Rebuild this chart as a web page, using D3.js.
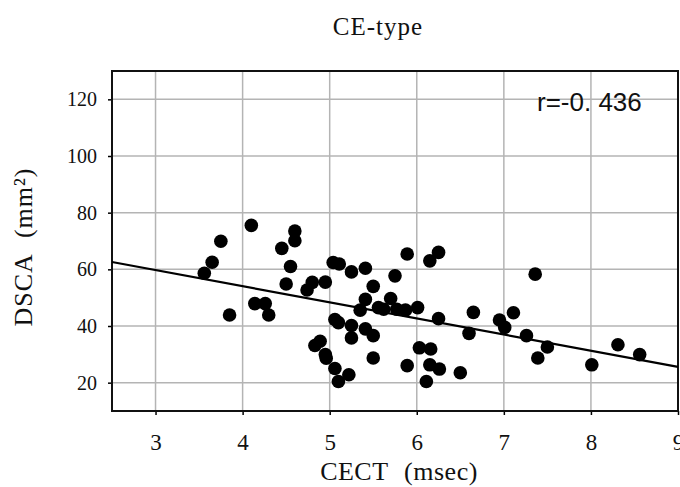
<!DOCTYPE html>
<html>
<head>
<meta charset="utf-8">
<script src="https://cdn.jsdelivr.net/npm/d3@7"></script>
<style>
  body { margin: 0; background: #fff; }
</style>
</head>
<body>
<div id="chart"></div>
<script>
// CECT (msec) values
var cect = [3.56, 3.65, 3.75, 3.85, 4.10, 4.14, 4.26, 4.30, 4.45, 4.50,
  4.55, 4.60, 4.60, 4.74, 4.80, 4.83, 4.89, 4.95, 4.95, 4.96,
  5.04, 5.11, 5.06, 5.10, 5.06, 5.10, 5.22, 5.25, 5.25, 5.25,
  5.35, 5.41, 5.41, 5.41, 5.50, 5.50, 5.50, 5.56, 5.62, 5.70,
  5.75, 5.77, 5.87, 5.89, 5.89, 6.01, 6.03, 6.11, 6.15, 6.16,
  6.15, 6.25, 6.25, 6.26, 6.50, 6.60, 6.65, 6.95, 7.01, 7.11,
  7.26, 7.36, 7.39, 7.50, 8.01, 8.31, 8.56];
// DSCA (mm2) values, same order
var dsca = [58.6, 62.5, 69.9, 43.9, 75.5, 47.9, 47.9, 43.9, 67.4, 54.8,
  61.0, 73.5, 70.1, 52.7, 55.4, 33.1, 34.6, 55.5, 29.9, 28.6,
  62.4, 61.9, 42.3, 41.2, 25.0, 20.4, 22.8, 59.1, 40.2, 35.8,
  45.6, 60.4, 49.4, 39.0, 54.0, 36.6, 28.7, 46.5, 45.9, 49.7,
  57.7, 45.9, 45.6, 65.4, 26.0, 46.5, 32.3, 20.4, 63.0, 31.9,
  26.3, 66.0, 42.6, 24.8, 23.5, 37.4, 44.8, 42.1, 39.5, 44.7,
  36.6, 58.3, 28.7, 32.6, 26.3, 33.4, 29.9];

// regression line end points
var fitX = [2.5, 9];
var fitY = [62.6, 25.6];

var xTicks = [3, 4, 5, 6, 7, 8, 9];
var yTicks = [20, 40, 60, 80, 100, 120];

var W = 680, H = 487;
var margin = { top: 71, right: 2, bottom: 76, left: 112 };
var width = W - margin.left - margin.right;
var height = H - margin.top - margin.bottom;

var serif = "'Liberation Serif', 'DejaVu Serif', serif";

var svg = d3.select("#chart")
  .append("svg")
  .attr("width", W)
  .attr("height", H);

var g = svg.append("g")
  .attr("transform", `translate(${margin.left},${margin.top})`);

var x = d3.scaleLinear().domain([2.5, 9]).range([0, 566]);
var y = d3.scaleLinear().domain([10, 130]).range([height, 0]);

// grid
g.selectAll("line.vgrid")
  .data(xTicks)
  .enter()
  .append("line")
  .attr("class", "vgrid")
  .attr("x1", d => x(d)).attr("x2", d => x(d))
  .attr("y1", 0).attr("y2", height)
  .style("stroke", "#b4b4b4")
  .style("stroke-width", "1.5px");

g.selectAll("line.hgrid")
  .data(yTicks)
  .enter()
  .append("line")
  .attr("class", "hgrid")
  .attr("x1", 0).attr("x2", x(9))
  .attr("y1", d => y(d)).attr("y2", d => y(d))
  .style("stroke", "#b4b4b4")
  .style("stroke-width", "1.5px");

// axes
var xAxis = g.append("g")
  .attr("transform", `translate(0,${height})`)
  .call(d3.axisBottom(x).tickValues(xTicks).tickFormat(d3.format("d"))
    .tickSize(4).tickPadding(19).tickSizeOuter(0));
var yAxis = g.append("g")
  .call(d3.axisLeft(y).tickValues(yTicks).tickFormat(d3.format("d"))
    .tickSize(4).tickPadding(11).tickSizeOuter(0));

[xAxis, yAxis].forEach(function(a) {
  a.select(".domain").remove();
  a.selectAll("line").style("stroke", "#000").style("stroke-width", "1.5px");
  a.selectAll("text")
    .style("font-family", serif)
    .style("fill", "#111");
});
xAxis.selectAll("text").style("font-size", "23px");
yAxis.selectAll("text").style("font-size", "20px");

// frame
g.append("rect")
  .attr("x", 0).attr("y", 0)
  .attr("width", x(9)).attr("height", height)
  .style("fill", "none")
  .style("stroke", "#111")
  .style("stroke-width", "2px");

// regression line
g.append("line")
  .attr("x1", x(fitX[0])).attr("y1", y(fitY[0]))
  .attr("x2", x(fitX[1])).attr("y2", y(fitY[1]))
  .style("stroke", "#000")
  .style("stroke-width", "2.2px");

// points
var pts = cect.map(function(v, i) { return { x: v, y: dsca[i] }; });
g.selectAll("circle.pt")
  .data(pts)
  .enter()
  .append("circle")
  .attr("class", "pt")
  .attr("cx", d => x(d.x))
  .attr("cy", d => y(d.y))
  .attr("r", 6.8)
  .style("fill", "#000");

// r value
g.append("text")
  .attr("x", 537 - margin.left)
  .attr("y", 111 - margin.top)
  .style("font-family", "'Liberation Sans', Arial, sans-serif")
  .style("font-size", "26px")
  .style("fill", "#111")
  .text("r=-0. 436");

// title and axis labels
svg.append("text")
  .attr("x", 378).attr("y", 35)
  .attr("text-anchor", "middle")
  .style("font-family", serif)
  .style("font-size", "25px")
  .style("letter-spacing", "1px")
  .style("fill", "#111")
  .text("CE-type");

svg.append("text")
  .attr("x", 399).attr("y", 480)
  .attr("text-anchor", "middle")
  .style("font-family", serif)
  .style("font-size", "26px")
  .style("letter-spacing", "0.5px")
  .style("word-spacing", "9px")
  .style("fill", "#111")
  .text("CECT (msec)");

svg.append("text")
  .attr("transform", "translate(32,247) rotate(-90)")
  .attr("text-anchor", "middle")
  .style("font-family", serif)
  .style("font-size", "26px")
  .style("letter-spacing", "1px")
  .style("word-spacing", "9px")
  .style("fill", "#111")
  .text("DSCA (mm²)");
</script>
</body>
</html>
